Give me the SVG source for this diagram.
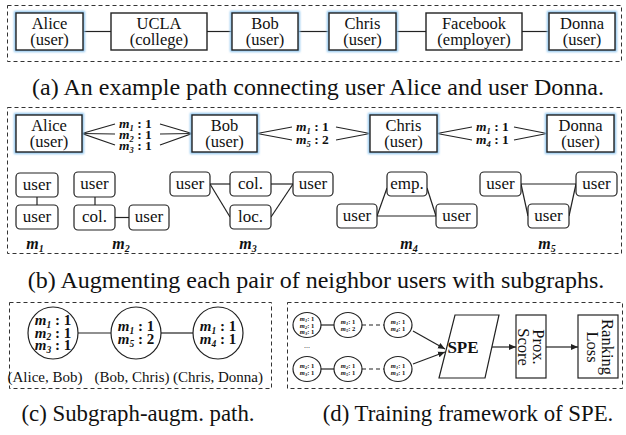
<svg xmlns="http://www.w3.org/2000/svg" width="626" height="435" viewBox="0 0 626 435">
<defs>
<style>
text{font-family:"Liberation Serif","Times New Roman",serif;fill:#111}
.frame{fill:none;stroke:#333;stroke-width:1;stroke-dasharray:4 3}
.box{fill:#fff;stroke:#222;stroke-width:1.4}
.glow{fill:none;stroke:#8cc4ef;stroke-width:4;filter:url(#blur)}
.rbox{fill:#fff;stroke:#222;stroke-width:1.2}
.ln{stroke:#222;stroke-width:1.2;fill:none}
.dl{stroke:#222;stroke-width:1.2;fill:none;stroke-dasharray:4 3}
.nt{font-size:16.5px;text-anchor:middle}
.st{font-size:17px;text-anchor:middle}
.ml{font-size:13.5px;font-weight:bold;font-style:italic}
.mc{font-size:15px;font-weight:bold;font-style:italic;text-anchor:middle}
.mt{font-size:6.5px;font-weight:bold;font-style:italic;text-anchor:middle}
.mlab{font-size:16px;font-weight:bold;font-style:italic;text-anchor:middle}
.cap{font-size:24px;text-anchor:middle}
.cap2{font-size:22.8px;text-anchor:middle}
.pl{font-size:15px;text-anchor:middle}
.up{font-style:normal}
</style>
<filter id="blur" x="-20%" y="-30%" width="140%" height="160%"><feGaussianBlur stdDeviation="1.2"/></filter>
<marker id="arr" markerWidth="8" markerHeight="8" refX="7" refY="4" orient="auto" markerUnits="userSpaceOnUse"><path d="M0,1 L7,4 L0,7 Z" fill="#222"/></marker>
</defs>

<!-- Panel (a) -->
<rect class="frame" x="7.5" y="5.5" width="614" height="56"/>
<g id="a-connectors">
<line class="ln" x1="83" y1="31.5" x2="111" y2="31.5"/>
<line class="ln" x1="207" y1="31.5" x2="232" y2="31.5"/>
<line class="ln" x1="298" y1="31.5" x2="329" y2="31.5"/>
<line class="ln" x1="396" y1="31.5" x2="426" y2="31.5"/>
<line class="ln" x1="522" y1="31.5" x2="549" y2="31.5"/>
</g>
<g id="a-alice"><rect class="glow" x="16" y="13" width="67" height="37"/><rect class="box" x="16" y="13" width="67" height="37"/><text class="nt" x="49.5" y="29">Alice</text><text class="nt" x="49.5" y="44.5">(user)</text></g>
<g id="a-ucla"><rect class="box" x="111" y="13" width="96" height="37"/><text class="nt" x="159" y="29">UCLA</text><text class="nt" x="159" y="44.5">(college)</text></g>
<g id="a-bob"><rect class="glow" x="232" y="13" width="66" height="37"/><rect class="box" x="232" y="13" width="66" height="37"/><text class="nt" x="265" y="29">Bob</text><text class="nt" x="265" y="44.5">(user)</text></g>
<g id="a-chris"><rect class="glow" x="329" y="13" width="67" height="37"/><rect class="box" x="329" y="13" width="67" height="37"/><text class="nt" x="362.5" y="29">Chris</text><text class="nt" x="362.5" y="44.5">(user)</text></g>
<g id="a-facebook"><rect class="box" x="426" y="13" width="96" height="37"/><text class="nt" x="474" y="29">Facebook</text><text class="nt" x="474" y="44.5">(employer)</text></g>
<g id="a-donna"><rect class="glow" x="549" y="13" width="66" height="37"/><rect class="box" x="549" y="13" width="66" height="37"/><text class="nt" x="582" y="29">Donna</text><text class="nt" x="582" y="44.5">(user)</text></g>
<text class="cap" x="318" y="95">(a) An example path connecting user Alice and user Donna.</text>

<!-- Panel (b) -->
<rect class="frame" x="7.5" y="107.5" width="614" height="146"/>
<g id="b-connectors">
<polyline class="ln" points="115,124 82,133.5 115,145"/>
<line class="ln" x1="82" y1="133.5" x2="115" y2="134"/>
<polyline class="ln" points="160,124 192,133.5 160,145"/>
<line class="ln" x1="160" y1="134" x2="192" y2="133.5"/>
<polyline class="ln" points="292,127 257,133.5 292,140"/>
<polyline class="ln" points="336,127 370,133.5 336,140"/>
<polyline class="ln" points="472,127 437,133.5 472,140"/>
<polyline class="ln" points="514,127 547,133.5 514,140"/>
<line class="ln" x1="37" y1="197" x2="37" y2="205"/>
<line class="ln" x1="95" y1="197" x2="95" y2="205"/>
<line class="ln" x1="115" y1="217.5" x2="129" y2="217.5"/>
<line class="ln" x1="210" y1="184" x2="230" y2="184"/>
<line class="ln" x1="271" y1="184" x2="293" y2="184"/>
<line class="ln" x1="210" y1="184" x2="230" y2="217"/>
<line class="ln" x1="271" y1="217" x2="293" y2="184"/>
<line class="ln" x1="377" y1="216" x2="436" y2="216"/>
<line class="ln" x1="377" y1="216" x2="387" y2="188"/>
<line class="ln" x1="427" y1="188" x2="436" y2="216"/>
<line class="ln" x1="521" y1="184" x2="576" y2="184"/>
<line class="ln" x1="521" y1="184" x2="528" y2="216"/>
<line class="ln" x1="569" y1="216" x2="576" y2="184"/>
</g>
<g id="b-alice"><rect class="glow" x="16" y="115" width="66" height="37"/><rect class="box" x="16" y="115" width="66" height="37"/><text class="nt" x="49" y="131">Alice</text><text class="nt" x="49" y="146.5">(user)</text></g>
<g id="b-bob"><rect class="glow" x="192" y="115" width="65" height="37"/><rect class="box" x="192" y="115" width="65" height="37"/><text class="nt" x="224.5" y="131">Bob</text><text class="nt" x="224.5" y="146.5">(user)</text></g>
<g id="b-chris"><rect class="glow" x="370" y="115" width="67" height="37"/><rect class="box" x="370" y="115" width="67" height="37"/><text class="nt" x="403.5" y="131">Chris</text><text class="nt" x="403.5" y="146.5">(user)</text></g>
<g id="b-donna"><rect class="glow" x="547" y="115" width="67" height="37"/><rect class="box" x="547" y="115" width="67" height="37"/><text class="nt" x="580.5" y="131">Donna</text><text class="nt" x="580.5" y="146.5">(user)</text></g>
<g id="b-labels-ab">
<text class="ml" x="119" y="128">m<tspan font-size="8.5" dy="2.5">1</tspan><tspan class="up" dy="-2.5"> : 1</tspan></text>
<text class="ml" x="119" y="139">m<tspan font-size="8.5" dy="2.5">2</tspan><tspan class="up" dy="-2.5"> : 1</tspan></text>
<text class="ml" x="119" y="150">m<tspan font-size="8.5" dy="2.5">3</tspan><tspan class="up" dy="-2.5"> : 1</tspan></text>
</g>
<g id="b-labels-bc">
<text class="ml" x="296" y="131">m<tspan font-size="8.5" dy="2.5">1</tspan><tspan class="up" dy="-2.5"> : 1</tspan></text>
<text class="ml" x="296" y="144">m<tspan font-size="8.5" dy="2.5">5</tspan><tspan class="up" dy="-2.5"> : 2</tspan></text>
</g>
<g id="b-labels-cd">
<text class="ml" x="476" y="131">m<tspan font-size="8.5" dy="2.5">1</tspan><tspan class="up" dy="-2.5"> : 1</tspan></text>
<text class="ml" x="476" y="144">m<tspan font-size="8.5" dy="2.5">4</tspan><tspan class="up" dy="-2.5"> : 1</tspan></text>
</g>
<g id="m1-sub">
<rect class="rbox" x="16" y="173" width="42" height="24" rx="4"/><text class="st" x="37" y="190">user</text>
<rect class="rbox" x="16" y="205" width="42" height="24" rx="4"/><text class="st" x="37" y="222">user</text>
<text class="mlab" x="35" y="249">m<tspan font-size="10" dy="3">1</tspan></text>
</g>
<g id="m2-sub">
<rect class="rbox" x="74" y="172" width="41" height="25" rx="4"/><text class="st" x="94.5" y="189">user</text>
<rect class="rbox" x="74" y="205" width="41" height="25" rx="4"/><text class="st" x="94.5" y="222">col.</text>
<rect class="rbox" x="129" y="205" width="40" height="25" rx="4"/><text class="st" x="149" y="222">user</text>
<text class="mlab" x="121" y="249">m<tspan font-size="10" dy="3">2</tspan></text>
</g>
<g id="m3-sub">
<rect class="rbox" x="170" y="172" width="40" height="24" rx="4"/><text class="st" x="190" y="189">user</text>
<rect class="rbox" x="230" y="172" width="41" height="24" rx="4"/><text class="st" x="250.5" y="189">col.</text>
<rect class="rbox" x="230" y="205" width="41" height="24" rx="4"/><text class="st" x="250.5" y="222">loc.</text>
<rect class="rbox" x="293" y="172" width="40" height="24" rx="4"/><text class="st" x="313" y="189">user</text>
<text class="mlab" x="248" y="249">m<tspan font-size="10" dy="3">3</tspan></text>
</g>
<g id="m4-sub">
<rect class="rbox" x="387" y="172" width="40" height="24" rx="4"/><text class="st" x="407" y="189">emp.</text>
<rect class="rbox" x="337" y="204" width="40" height="24" rx="4"/><text class="st" x="357" y="221">user</text>
<rect class="rbox" x="436" y="204" width="41" height="24" rx="4"/><text class="st" x="456.5" y="221">user</text>
<text class="mlab" x="409" y="249">m<tspan font-size="10" dy="3">4</tspan></text>
</g>
<g id="m5-sub">
<rect class="rbox" x="480" y="172" width="41" height="24" rx="4"/><text class="st" x="500.5" y="189">user</text>
<rect class="rbox" x="576" y="172" width="41" height="24" rx="4"/><text class="st" x="596.5" y="189">user</text>
<rect class="rbox" x="528" y="204" width="41" height="24" rx="4"/><text class="st" x="548.5" y="221">user</text>
<text class="mlab" x="547" y="249">m<tspan font-size="10" dy="3">5</tspan></text>
</g>
<text class="cap" x="316" y="288">(b) Augmenting each pair of neighbor users with subgraphs.</text>

<!-- Panel (c) -->
<rect class="frame" x="9.5" y="302.5" width="262" height="86"/>
<g id="c-connectors">
<line class="ln" x1="78" y1="333" x2="111" y2="333"/>
<line class="ln" x1="161" y1="333" x2="193" y2="333"/>
</g>
<g id="c-ab">
<ellipse class="rbox" cx="53" cy="333" rx="25" ry="26"/>
<text class="mc" x="53" y="325">m<tspan font-size="9.5" dy="2.5">1</tspan><tspan class="up" dy="-2.5"> : 1</tspan></text>
<text class="mc" x="53" y="337.5">m<tspan font-size="9.5" dy="2.5">2</tspan><tspan class="up" dy="-2.5"> : 1</tspan></text>
<text class="mc" x="53" y="350">m<tspan font-size="9.5" dy="2.5">3</tspan><tspan class="up" dy="-2.5"> : 1</tspan></text>
<text class="pl" x="45" y="382">(Alice, Bob)</text>
</g>
<g id="c-bc">
<ellipse class="rbox" cx="136" cy="333" rx="25" ry="26"/>
<text class="mc" x="136" y="331">m<tspan font-size="9.5" dy="2.5">1</tspan><tspan class="up" dy="-2.5"> : 1</tspan></text>
<text class="mc" x="136" y="344">m<tspan font-size="9.5" dy="2.5">5</tspan><tspan class="up" dy="-2.5"> : 2</tspan></text>
<text class="pl" x="132" y="382">(Bob, Chris)</text>
</g>
<g id="c-cd">
<ellipse class="rbox" cx="218" cy="333" rx="25" ry="26"/>
<text class="mc" x="218" y="331">m<tspan font-size="9.5" dy="2.5">1</tspan><tspan class="up" dy="-2.5"> : 1</tspan></text>
<text class="mc" x="218" y="344">m<tspan font-size="9.5" dy="2.5">4</tspan><tspan class="up" dy="-2.5"> : 1</tspan></text>
<text class="pl" x="218" y="382">(Chris, Donna)</text>
</g>
<text class="cap2" x="138" y="421">(c) Subgraph-augm. path.</text>

<!-- Panel (d) -->
<rect class="frame" x="287.5" y="302.5" width="335" height="86"/>
<g id="d-connectors">
<line class="ln" x1="321" y1="325" x2="334" y2="325"/>
<line class="dl" x1="362" y1="325" x2="384" y2="325"/>
<line class="ln" x1="321" y1="369" x2="334" y2="369"/>
<line class="dl" x1="362" y1="369" x2="384" y2="369"/>
<line class="ln" x1="413" y1="331" x2="445" y2="349" marker-end="url(#arr)"/>
<line class="ln" x1="413" y1="364" x2="445" y2="352" marker-end="url(#arr)"/>
<line class="ln" x1="492" y1="347" x2="516" y2="347" marker-end="url(#arr)"/>
<line class="ln" x1="546" y1="347" x2="578" y2="347" marker-end="url(#arr)"/>
</g>
<g id="d-path1">
<ellipse class="rbox" cx="307" cy="325" rx="14" ry="12.5"/>
<text class="mt" x="307" y="321">m<tspan font-size="4.5" dy="1">1</tspan><tspan class="up" dy="-1">: 1</tspan></text>
<text class="mt" x="307" y="327.5">m<tspan font-size="4.5" dy="1">2</tspan><tspan class="up" dy="-1">: 1</tspan></text>
<text class="mt" x="307" y="334">m<tspan font-size="4.5" dy="1">3</tspan><tspan class="up" dy="-1">: 1</tspan></text>
<ellipse class="rbox" cx="348" cy="325" rx="14" ry="12.5"/>
<text class="mt" x="348" y="324">m<tspan font-size="4.5" dy="1">1</tspan><tspan class="up" dy="-1">: 1</tspan></text>
<text class="mt" x="348" y="330.5">m<tspan font-size="4.5" dy="1">5</tspan><tspan class="up" dy="-1">: 2</tspan></text>
<ellipse class="rbox" cx="398" cy="325" rx="14" ry="12.5"/>
<text class="mt" x="398" y="324">m<tspan font-size="4.5" dy="1">1</tspan><tspan class="up" dy="-1">: 1</tspan></text>
<text class="mt" x="398" y="330.5">m<tspan font-size="4.5" dy="1">4</tspan><tspan class="up" dy="-1">: 1</tspan></text>
</g>
<text x="307" y="348" font-size="8" text-anchor="middle">...</text>
<g id="d-path2">
<ellipse class="rbox" cx="307" cy="369" rx="14" ry="12.5"/>
<text class="mt" x="307" y="368">m<tspan font-size="4.5" dy="1">2</tspan><tspan class="up" dy="-1">: 1</tspan></text>
<text class="mt" x="307" y="374.5">m<tspan font-size="4.5" dy="1">3</tspan><tspan class="up" dy="-1">: 1</tspan></text>
<ellipse class="rbox" cx="348" cy="369" rx="14" ry="12.5"/>
<text class="mt" x="348" y="368">m<tspan font-size="4.5" dy="1">2</tspan><tspan class="up" dy="-1">: 1</tspan></text>
<text class="mt" x="348" y="374.5">m<tspan font-size="4.5" dy="1">5</tspan><tspan class="up" dy="-1">: 1</tspan></text>
<ellipse class="rbox" cx="398" cy="369" rx="14" ry="12.5"/>
<text class="mt" x="398" y="368">m<tspan font-size="4.5" dy="1">1</tspan><tspan class="up" dy="-1">: 1</tspan></text>
<text class="mt" x="398" y="374.5">m<tspan font-size="4.5" dy="1">3</tspan><tspan class="up" dy="-1">: 1</tspan></text>
</g>
<g id="d-spe">
<polygon class="rbox" points="455,315 499,315 485,378 439,378"/>
<text x="463" y="353" font-size="17" font-weight="bold" text-anchor="middle">SPE</text>
</g>
<g id="d-prox">
<rect class="rbox" x="516" y="315" width="30" height="63"/>
<g transform="translate(531,347) rotate(90)"><text class="nt" x="0" y="-2.2">Prox.</text><text class="nt" x="0" y="12.8">Score</text></g>
</g>
<g id="d-loss">
<rect class="rbox" x="578" y="315" width="40" height="63"/>
<g transform="translate(598,347) rotate(90)"><text class="nt" x="0" y="-3.5">Ranking</text><text class="nt" x="0" y="11.5">Loss</text></g>
</g>
<text class="cap2" x="468" y="421">(d) Training framework of SPE.</text>
</svg>
